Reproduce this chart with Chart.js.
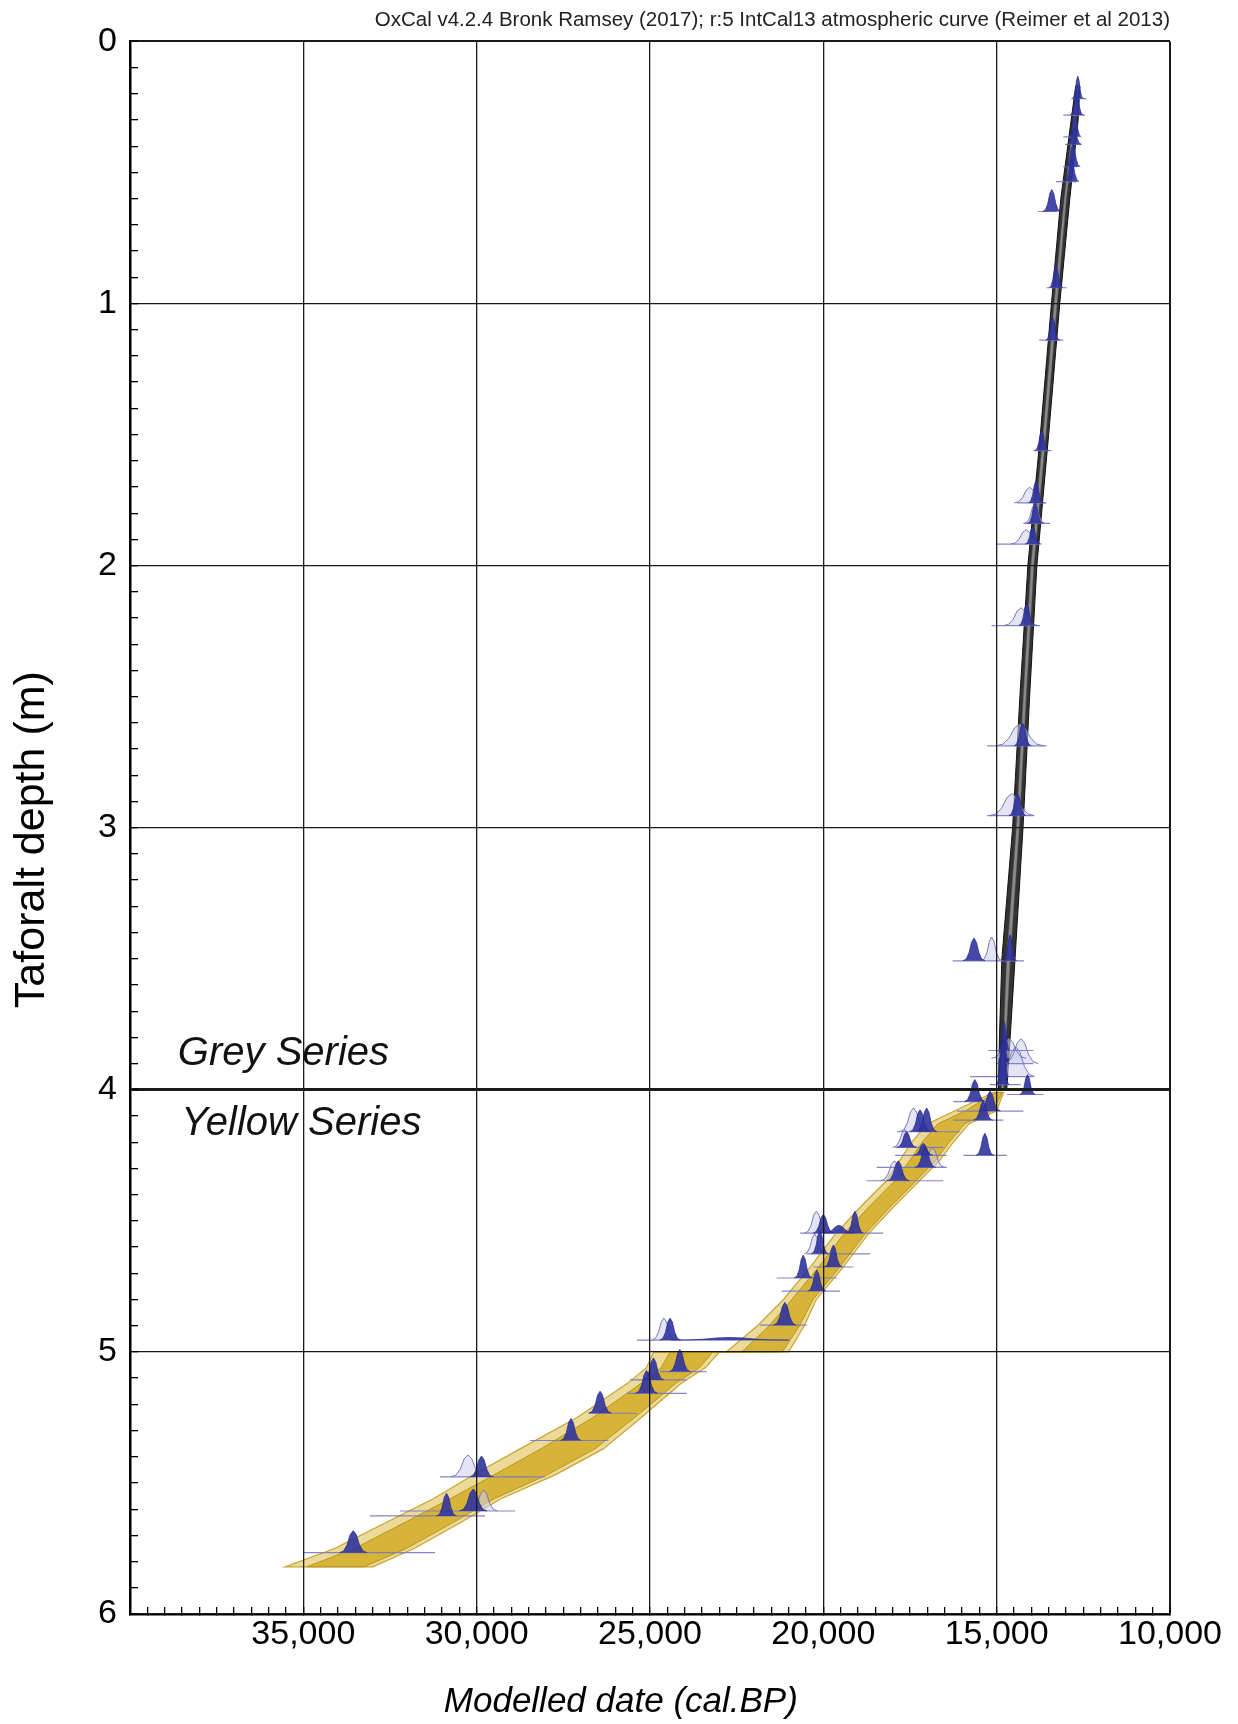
<!DOCTYPE html>
<html>
<head>
<meta charset="utf-8">
<title>Taforalt depth model</title>
<script src="https://cdn.jsdelivr.net/npm/chart.js@4.4.1/dist/chart.umd.min.js"></script>
<style>
  html, body { margin: 0; padding: 0; background: #ffffff; }
  #chart { display: block; }
</style>
</head>
<body>
<canvas id="chart" width="1238" height="1724"></canvas>
<script>
// ================= DATA =================
// Grey Series envelope: depth (m) and bounding dates (cal BP)
const greyDepth      = [0.17, 0.30, 0.60, 1.00, 1.50, 2.00, 2.50, 3.00, 3.50, 3.80, 4.00];
const greyOuterOld   = [12720, 12850, 13150, 13420, 13740, 14100, 14330, 14540, 14850, 14920, 14950];
const greyOuterYoung = [12600, 12650, 12890, 13180, 13500, 13840, 14050, 14240, 14470, 14610, 14710];
const greyInnerOld   = [12675, 12780, 13050, 13340, 13660, 14010, 14230, 14430, 14710, 14800, 14860];
const greyInnerYoung = [12645, 12720, 12990, 13260, 13580, 13930, 14150, 14350, 14610, 14730, 14800];

// Yellow Series envelope
const yellowDepth      = [4.01, 4.08, 4.13, 4.20, 4.27, 4.35, 4.45, 4.55, 4.68, 4.80, 4.90, 5.00, 5.001, 5.06, 5.12, 5.25, 5.37, 5.47, 5.56, 5.65, 5.75, 5.82];
const yellowOuterOld   = [15100, 16200, 17000, 17450, 17800, 18200, 18950, 19650, 20400, 21150, 21900, 22800, 24900, 25100, 25650, 27100, 28750, 30100, 31250, 32600, 34100, 35530];
const yellowOuterYoung = [14800, 15000, 15800, 16250, 16650, 17250, 18000, 18700, 19450, 20200, 20550, 21000, 23000, 23400, 24100, 25250, 26350, 27750, 29300, 30450, 31800, 33000];
const yellowInnerOld   = [15025, 15900, 16700, 17150, 17510, 17960, 18710, 19410, 20160, 20910, 21560, 22350, 24425, 24675, 25260, 26640, 28150, 29510, 30760, 32060, 33525, 34900];
const yellowInnerYoung = [14830, 15120, 15920, 16370, 16765, 17345, 18095, 18795, 19545, 20295, 20685, 21180, 23190, 23570, 24255, 25435, 26590, 27985, 29495, 30665, 32030, 33250];

// Modelled (posterior) distributions: sample depth, mode date, half-spread (yr), peak height (m of axis)
const postDepth  = [0.218,0.281,0.364,0.393,0.478,0.535,0.649,0.940,1.140,1.561,1.761,1.839,1.918,2.229,2.688,2.954,3.508,3.508,3.850,3.900,3.950,3.980,
                    4.018,4.045,4.081,4.116,4.160,4.160,4.220,4.250,4.250,4.296,4.347,4.547,4.547,4.547,4.626,4.676,4.718,4.768,4.898,4.955,4.955,5.075,5.107,5.158,5.234,5.338,5.477,5.607,5.626,5.766];
const postDate   = [12660,12690,12740,12760,12800,12840,13410,13290,13385,13700,13865,13890,13960,14135,14250,14400,14615,15654,14780,14800,14820,14830,
                    14110,15630,15190,15390,17210,17020,17600,17115,15340,17060,17840,20000,19090,19550,20100,19710,20580,20190,21110,24420,22700,24140,24900,25100,26440,27280,29860,30100,30870,33560];
const postSpread = [160,190,180,200,210,220,260,200,200,200,220,220,220,230,250,250,190,320,160,160,160,180,
                    230,300,300,280,300,300,280,280,260,300,320,300,250,450,250,260,260,260,330,300,1700,300,300,320,330,300,340,400,290,400];
const postHeight = [0.085,0.075,0.080,0.060,0.085,0.080,0.084,0.087,0.087,0.076,0.084,0.076,0.068,0.084,0.087,0.084,0.099,0.087,0.110,0.130,0.150,0.170,
                    0.076,0.084,0.076,0.072,0.084,0.091,0.060,0.046,0.084,0.076,0.076,0.072,0.084,0.030,0.087,0.084,0.087,0.080,0.087,0.084,0.010,0.084,0.084,0.087,0.084,0.084,0.080,0.084,0.087,0.084];

// Unmodelled (likelihood) distributions
const likeDepth  = [1.761,1.839,1.918,2.229,2.688,2.954,3.508,3.880,3.900,3.950,4.160,4.220,4.296,4.347,4.547,4.626,4.955,5.477,5.607];
const likeDate   = [14050,13900,14150,14300,14330,14560,15144,14650,14300,14450,17400,17650,16850,17950,20200,20250,24600,30250,29800];
const likeSpread = [450,300,450,500,700,650,300,500,500,550,400,350,350,400,350,300,350,500,400];
const likeHeight = [0.060,0.076,0.055,0.068,0.084,0.084,0.091,0.076,0.095,0.114,0.091,0.068,0.076,0.076,0.084,0.076,0.084,0.084,0.080];

// Range bars under each distribution
const rangeDepth = [0.218,0.281,0.364,0.393,0.478,0.535,0.649,0.940,1.140,1.561,1.761,1.839,1.918,2.229,2.688,2.954,3.508,3.850,3.900,3.950,3.980,
                    4.018,4.045,4.081,4.116,4.160,4.220,4.250,4.250,4.296,4.347,4.547,4.626,4.676,4.718,4.768,4.898,4.955,5.075,5.107,5.158,5.234,5.338,5.477,5.607,5.626,5.766];
const rangeYoung = [12410,12450,12690,12550,12690,12690,13270,12980,13080,13420,13560,13460,13750,13750,13560,13940,14210,13940,13940,13950,14300,
                    13650,15100,14230,14810,16060,16540,14710,16440,16440,16540,18270,18650,19130,19610,19520,20480,20960,23370,23940,23940,25380,26200,28030,28890,29760,31200];
const rangeOld   = [12840,13080,13077,13030,13080,13290,13800,13560,13770,13940,14420,14230,15000,15150,15270,15270,16270,15240,15000,15770,15200,
                    14710,16250,16150,16250,17880,17930,15960,17930,18460,18750,20670,20480,20290,21350,21200,21830,25380,24710,25580,25670,26780,28460,31060,32210,33080,35000];

// Series boundary depth and labels
const boundaryDepths   = [4];
const seriesLabels     = ['Grey Series', 'Yellow Series'];
const seriesLabelDate  = [38620, 38520];
const seriesLabelDepth = [3.864, 4.13];

// Axis settings
const xMin = 10000, xMax = 40000, xMinorStep = 500, xMajorStep = 5000;
const yMin = 0, yMax = 6, yMinorStep = 0.1;
const chartTitle = 'OxCal v4.2.4 Bronk Ramsey (2017); r:5 IntCal13 atmospheric curve (Reimer et al 2013)';
const xTitle = 'Modelled date (cal.BP)';
const yTitle = 'Taforalt depth (m)';

// ================= helpers to build library datasets =================
const bumpProfileX = [-1, -0.7, -0.45, -0.22, 0, 0.22, 0.45, 0.7, 1];
const bumpProfileY = [0, 0.08, 0.35, 0.82, 1, 0.82, 0.35, 0.08, 0];

function bumpPoints(depths, dates, spreads, heights) {
  const pts = [];
  depths.forEach((d, i) => {
    bumpProfileX.forEach((k, j) => pts.push({x: dates[i] + k * spreads[i], y: d - bumpProfileY[j] * heights[i]}));
    pts.push({x: dates[i], y: null});
  });
  return pts;
}
function bandPolygon(depths, oldEdge, youngEdge) {
  const pts = depths.map((d, i) => ({x: oldEdge[i], y: d}));
  for (let i = depths.length - 1; i >= 0; i--) pts.push({x: youngEdge[i], y: depths[i]});
  pts.push({x: oldEdge[0], y: depths[0]});
  return pts;
}
function rangePoints(depths, young, old) {
  const pts = [];
  depths.forEach((d, i) => {
    pts.push({x: young[i], y: d}, {x: old[i], y: d}, {x: old[i], y: null});
  });
  return pts;
}

const FONT = "'Liberation Sans', Arial, Helvetica, sans-serif";
Chart.defaults.font.family = FONT;
Chart.defaults.color = '#000';

const seriesLabelPlugin = {
  id: 'seriesLabels',
  afterDatasetsDraw(chart) {
    const {ctx, scales: {x, y}} = chart;
    ctx.save();
    ctx.font = "italic 40px " + FONT;
    ctx.fillStyle = '#111';
    ctx.textAlign = 'left';
    ctx.textBaseline = 'middle';
    seriesLabels.forEach((t, i) => ctx.fillText(t, x.getPixelForValue(seriesLabelDate[i]), y.getPixelForValue(seriesLabelDepth[i])));
    ctx.restore();
  }
};

const isMajorX = v => v % xMajorStep === 0;
const isMajorY = v => Math.abs(v - Math.round(v)) < 1e-6;

new Chart(document.getElementById('chart'), {
  type: 'line',
  data: {
    datasets: [
      { label: 'Yellow 95%', data: bandPolygon(yellowDepth, yellowOuterOld, yellowOuterYoung),
        fill: 'shape', backgroundColor: '#ecdb98', borderColor: '#c9a430', borderWidth: 1.2, order: 9 },
      { label: 'Yellow 68%', data: bandPolygon(yellowDepth, yellowInnerOld, yellowInnerYoung),
        fill: 'shape', backgroundColor: '#d7b437', borderColor: '#b8951f', borderWidth: 1, order: 8 },
      { label: 'Grey 95%', data: bandPolygon(greyDepth, greyOuterOld, greyOuterYoung),
        fill: 'shape', backgroundColor: '#333333', borderColor: '#111111', borderWidth: 1, order: 7 },
      { label: 'Grey 68%', data: bandPolygon(greyDepth, greyInnerOld, greyInnerYoung),
        fill: 'shape', backgroundColor: '#8a8a8a', borderColor: '#6a6a6a', borderWidth: 0.5, order: 6 },
      { label: 'Unmodelled', data: bumpPoints(likeDepth, likeDate, likeSpread, likeHeight),
        fill: 'shape', backgroundColor: 'rgba(205,205,235,0.55)', borderColor: 'rgba(110,110,175,0.9)', borderWidth: 1, order: 5 },
      { label: 'Ranges', data: rangePoints(rangeDepth, rangeYoung, rangeOld),
        fill: false, borderColor: 'rgba(120,120,195,0.9)', borderWidth: 1.2, order: 4 },
      { label: 'Modelled', data: bumpPoints(postDepth, postDate, postSpread, postHeight),
        fill: 'shape', backgroundColor: 'rgba(48,52,160,0.9)', borderColor: 'rgba(40,44,140,0.95)', borderWidth: 0.8, order: 3 }
    ]
  },
  options: {
    responsive: false,
    devicePixelRatio: 1,
    animation: false,
    events: [],
    spanGaps: false,
    elements: { point: { radius: 0, hoverRadius: 0 }, line: { tension: 0 } },
    layout: { padding: { left: 0, right: 68, top: 0, bottom: 0 } },
    plugins: {
      legend: { display: false },
      tooltip: { enabled: false },
      title: {
        display: true, text: chartTitle, align: 'end', color: '#222',
        font: { size: 20.5, weight: 'normal', lineHeight: 1.2 }, padding: { top: 3, bottom: 8.4 }
      }
    },
    scales: {
      x: {
        type: 'linear', min: xMin, max: xMax, reverse: true,
        border: { display: true, color: '#000', width: 2.5, z: 1 },
        grid: {
          z: 1,
          color: c => (c.tick && isMajorX(c.tick.value)) ? '#1a1a1a' : 'rgba(0,0,0,0)',
          lineWidth: c => (c.tick && c.tick.value === xMin) ? 2 : 1.3,
          drawTicks: true, tickLength: -7, tickColor: '#000', tickWidth: 1.3
        },
        ticks: {
          stepSize: xMinorStep, autoSkip: false, maxRotation: 0, padding: 7,
          font: { size: 34 }, color: '#000',
          callback: v => (isMajorX(v) && v !== xMax) ? Number(v).toLocaleString('en-US') : ''
        },
        title: { display: true, text: xTitle + '      ', font: { size: 35, style: 'italic' }, color: '#000', padding: { top: 0, bottom: 1 } },
        afterFit: s => { s.height = 110; }
      },
      y: {
        type: 'linear', min: yMin, max: yMax, reverse: true,
        border: { display: true, color: '#000', width: 2.5, z: 1 },
        grid: {
          z: 1,
          color: c => (c.tick && isMajorY(c.tick.value)) ? '#1a1a1a' : 'rgba(0,0,0,0)',
          lineWidth: c => {
            if (!c.tick) return 1;
            if (boundaryDepths.some(b => Math.abs(b - c.tick.value) < 1e-6)) return 3;
            if (Math.abs(c.tick.value - yMin) < 1e-6) return 2;
            return 1.3;
          },
          drawTicks: true, tickLength: -8, tickColor: '#000', tickWidth: 1.3
        },
        ticks: {
          stepSize: yMinorStep, autoSkip: false, padding: 21,
          font: { size: 34 }, color: '#000',
          callback: v => isMajorY(v) ? String(Math.round(v)) : ''
        },
        title: { display: true, text: yTitle + '  ', font: { size: 43 }, color: '#000', padding: { top: 6.6, bottom: 0 } },
        afterFit: s => { s.width = 130; }
      }
    }
  },
  plugins: [seriesLabelPlugin]
});
</script>
</body>
</html>
